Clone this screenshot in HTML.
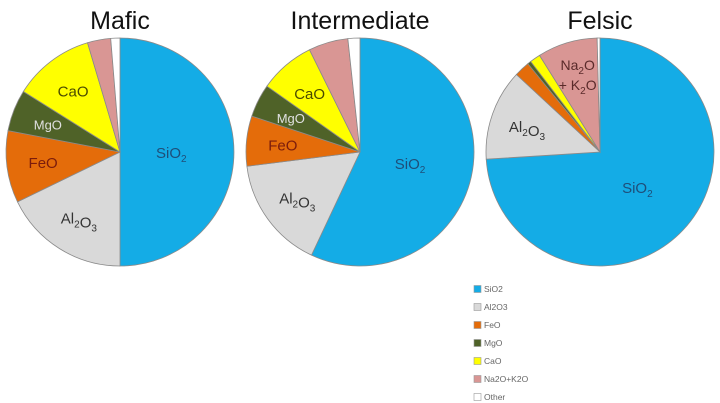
<!DOCTYPE html>
<html><head><meta charset="utf-8"><style>
body{margin:0;background:#fff;}
svg{display:block;font-family:"Liberation Sans",sans-serif;}
</style></head><body>
<svg id="chart" width="720" height="403" viewBox="0 0 720 403">
<g id="pies"></g>
<g id="legend"></g>
</svg>
<script>
const categories = ["SiO2","Al2O3","FeO","MgO","CaO","Na2O+K2O","Other"];
const colors = ["#14ace6","#d9d9d9","#e46c0a","#4f6228","#ffff00","#d99694","#ffffff"];
const chartTitles = ["Mafic","Intermediate","Felsic"];
const maficValues = [50, 17.8, 10.2, 5.9, 11.5, 3.3, 1.3];
const intermediateValues = [57, 16, 7.1, 4.7, 7.9, 5.6, 1.7];
const felsicValues = [74, 12.9, 2.2, 0.5, 1.5, 8.5, 0.4];
const allValues = [maficValues, intermediateValues, felsicValues];

const NS = "http://www.w3.org/2000/svg";
const pies = document.getElementById("pies");
const centers = [[120,152],[360,152],[600,152]];
const R = 114;
const labelColors = ["#1f4e79","#333","#7b1c0c","#e0e0e0","#4a4a00","#5a2a2a","#333"];
const labelSizes = [15,15,15,13,15,14,10];
const minLabel = [0,0,5,4,5,7,100];

function el(tag, attrs, parent){const e=document.createElementNS(NS,tag);for(const k in attrs)e.setAttribute(k,attrs[k]);parent.appendChild(e);return e;}
function pt(cx,cy,r,a){return [cx+r*Math.sin(a), cy-r*Math.cos(a)];}

function labelText(t, name){
  const parts = {"SiO2":[["SiO",0],["2",1]],"Al2O3":[["Al",0],["2",1],["O",0],["3",1]],"FeO":[["FeO",0]],"MgO":[["MgO",0]],"CaO":[["CaO",0]]};
  return parts[name];
}

allValues.forEach((vals, pi) => {
  const [cx,cy] = centers[pi];
  const g = el("g", {}, pies);
  
  
  const title = el("text", {x:cx, y:29, "text-anchor":"middle", "font-size":25, fill:"#111"}, g);
  title.textContent = chartTitles[pi];
  
  
  const total = vals.reduce((a,b)=>a+b,0);
  let acc = 0;
  vals.forEach((v, i) => {
    const a0 = acc/total*2*Math.PI; acc += v; const a1 = acc/total*2*Math.PI;
    const [x0,y0] = pt(cx,cy,R,a0), [x1,y1] = pt(cx,cy,R,a1);
    const large = (a1-a0) > Math.PI ? 1 : 0;
    const p = el("path", {d:`M${cx},${cy} L${x0},${y0} A${R},${R} 0 ${large} 1 ${x1},${y1} Z`, fill:colors[i], stroke:"#8a8a8a", "stroke-width":0.8}, g);
    
    
    if (v/total*100 >= minLabel[i]) {
      const am = (a0+a1)/2;
      const rr = i===0 ? R*0.45 : R*0.68;
      const [lx,ly] = pt(cx,cy,rr,am);
      const t = el("text", {x:lx, y:ly+6, "text-anchor":"middle", "font-size":labelSizes[i], fill:labelColors[i]}, g);
      
      
      if (i===5) {
        t.setAttribute("y", ly-8);
        t.innerHTML = 'Na<tspan font-size="10" dy="4">2</tspan><tspan dy="-4">O</tspan><tspan x="'+lx+'" dy="20">+ K</tspan><tspan font-size="10" dy="4">2</tspan><tspan dy="-4">O</tspan>';
      } else {
        let html = "";
        labelText(t, categories[i]).forEach(([s,sub]) => {
          html += sub ? `<tspan font-size="10" dy="4">${s}</tspan><tspan dy="-4"></tspan>` : `<tspan>${s}</tspan>`;
        });
        t.innerHTML = html;
      }
    }
  });
});

const legend = document.getElementById("legend");
categories.forEach((c, i) => {
  const y = 289 + i*18;
  const g = el("g", {}, legend);
  
  
  el("rect", {x:474, y:y-3.5, width:7, height:7, fill:colors[i], stroke:"#999", "stroke-width":0.6}, g);
  const t = el("text", {x:484, y:y+3, "font-size":8.5, fill:"#666"}, g);
  t.textContent = c;
});
</script>
</body></html>
